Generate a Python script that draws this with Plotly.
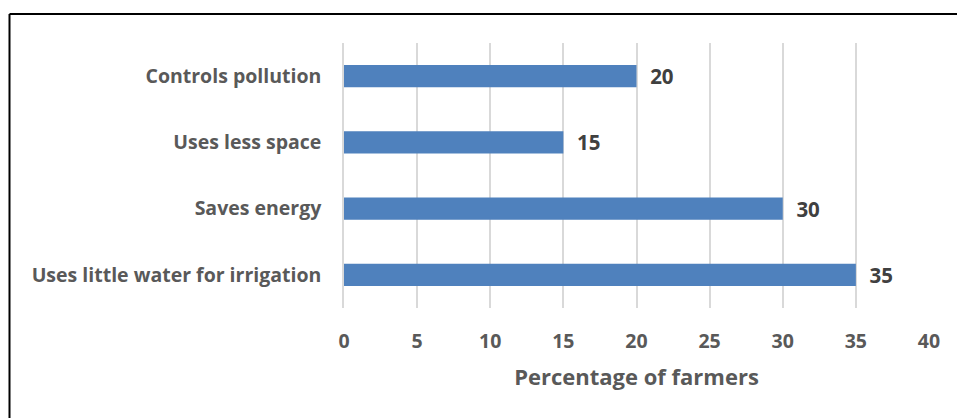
import plotly.graph_objects as go

categories = ["Uses little water for irrigation", "Saves energy", "Uses less space", "Controls pollution"]
values = [35, 30, 15, 20]
x_ticks = [0, 5, 10, 15, 20, 25, 30, 35, 40]
x_title = "Percentage of farmers"

FONT = "Open Sans"
W, H = 957, 418
L, R, T, B = 344, 28, 43, 110
pw, ph = W - L - R, H - T - B

def px_to_paper_x(px):
    return (px - L) / pw

def px_to_paper_y(py):
    return (H - B - py) / ph

fig = go.Figure()
fig.add_trace(go.Bar(
    y=categories,
    x=values,
    orientation="h",
    marker=dict(color="#4F81BD", line=dict(width=0)),
    text=values,
    texttemplate="  %{text}",
    textposition="outside",
    constraintext="none",
    cliponaxis=False,
    textfont=dict(family=FONT, size=20.5, color="#404040", weight="bold"),
    hoverinfo="skip",
))

fig.update_layout(
    width=W, height=H,
    margin=dict(l=L, r=R, t=T, b=B),
    paper_bgcolor="white",
    plot_bgcolor="white",
    bargap=0.667,
    showlegend=False,
    font=dict(family=FONT, color="#595959"),
    xaxis=dict(
        range=[0, 40],
        tickvals=x_ticks,
        ticktext=[str(t) for t in x_ticks],
        showgrid=True,
        gridcolor="#D9D9D9",
        gridwidth=1.5,
        zeroline=False,
        showline=False,
        ticks="",
        tickfont=dict(family=FONT, size=19.5, color="#595959", weight="bold"),
        ticklabelstandoff=19,
        title=dict(text=x_title, font=dict(family=FONT, size=22, color="#595959", weight="bold"), standoff=17),
        fixedrange=True,
    ),
    yaxis=dict(
        range=[-0.5, 3.5],
        showgrid=False,
        zeroline=False,
        showline=True,
        linecolor="#D9D9D9",
        linewidth=1.5,
        ticks="",
        ticklabelstandoff=17,
        tickfont=dict(family=FONT, size=19.5, color="#595959", weight="bold"),
        fixedrange=True,
    ),
    shapes=[
        dict(type="line", xref="paper", yref="paper",
             x0=px_to_paper_x(9.5), x1=px_to_paper_x(960),
             y0=px_to_paper_y(14), y1=px_to_paper_y(14),
             line=dict(color="black", width=2)),
        dict(type="line", xref="paper", yref="paper",
             x0=px_to_paper_x(9.5), x1=px_to_paper_x(9.5),
             y0=px_to_paper_y(14), y1=px_to_paper_y(420),
             line=dict(color="black", width=2)),
    ],
)

fig.write_html("out.html")
